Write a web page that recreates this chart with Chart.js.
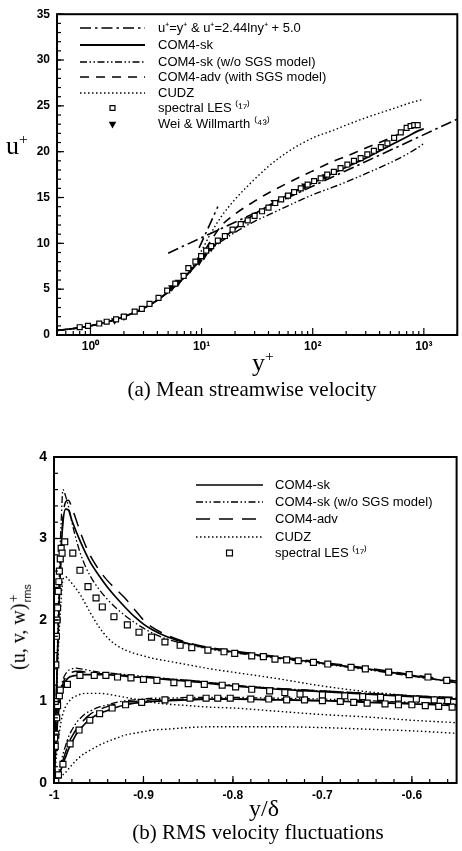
<!DOCTYPE html>
<html><head><meta charset="utf-8">
<script src="https://cdn.jsdelivr.net/npm/chart.js@4.4.1/dist/chart.umd.min.js"></script>
<style>
html,body{margin:0;padding:0;background:#fff;}
body{width:462px;height:851px;overflow:hidden;position:relative;}
.cv{position:absolute;left:0;width:462px;}
.t{position:absolute;font-family:'Liberation Serif','Times New Roman',serif;color:#000;white-space:nowrap;line-height:1;transform:translate(-50%,-50%);}
.t sup{font-size:0.6em;vertical-align:0.7em;}
</style></head><body>
<div class="cv" style="top:0;height:375px"><canvas id="ca"></canvas></div>
<div class="cv" style="top:440px;height:372px"><canvas id="cb"></canvas></div>
<div class="t" style="left:17px;top:145px;font-size:26px">u<sup>+</sup></div>
<div class="t" style="left:263px;top:362px;font-size:26px">y<sup>+</sup></div>
<div class="t" style="left:252px;top:389px;font-size:21px">(a) Mean streamwise velocity</div>
<div class="t" style="left:20px;top:627px;font-size:20px;transform:translate(-50%,-50%) rotate(-90deg)">(u, v, w)<span style="display:inline-flex;flex-direction:column;vertical-align:7px;line-height:1.05;margin-left:1px"><span style="font-size:14px">+</span><span style="font-size:11px;font-family:'Liberation Sans',Arial,sans-serif">rms</span></span></div>
<div class="t" style="left:264px;top:808px;font-size:24px">y/&delta;</div>
<div class="t" style="left:258px;top:832px;font-size:21px">(b) RMS velocity fluctuations</div>
<script>
// ---------- Panel (a) data ----------
const aX    = [0.5,0.7,1,1.5,2,3,4,5,6,7,8,10,12,15,20,30,40,60,100,150,200,300,500,700,900,1000];
const skA   = [0.5,0.7,1.0,1.5,2.0,2.9,3.8,4.7,5.5,6.3,7.0,8.4,9.4,10.4,11.6,13.2,14.1,15.3,16.6,17.6,18.3,19.3,20.7,21.6,22.3,22.5];
const woA   = [0.5,0.7,1.0,1.5,2.0,2.9,3.8,4.7,5.5,6.3,7.0,8.3,9.3,10.2,11.2,12.4,13.1,14.1,15.3,16.1,16.7,17.6,18.8,19.7,20.5,20.9];
const advA  = [0.5,0.7,1.0,1.5,2.0,2.9,3.8,4.7,5.5,6.3,7.1,8.7,10.2,11.9,13.2,14.6,15.5,16.6,17.9,18.9,19.5,20.4,21.5,22.3,null,null];
const cudzA = [0.5,0.7,1.0,1.5,2.0,2.9,3.8,4.7,5.5,6.3,7.1,9.2,11.0,12.9,14.8,17.0,18.4,20.0,21.5,22.3,22.9,23.7,24.6,25.2,25.6,25.7];
const viscX = [9.5,14];      const viscY = [9.5,14];
const logX  = [5,2000];      const logY  = [8.93,23.55];
const aLesX = [0.8,0.95,1.2,1.4,1.7,2.0,2.5,2.9,3.4,4.1,4.9,5.8,6.9,7.6,8.8,9.9,11,12.2,14,16.2,19,22.5,26,30,35,40,46,52,60,68,78,90,103,118,135,155,178,205,235,270,310,355,410,470,540,620,700,760,820,880];
const aLesY = [0.85,1.0,1.25,1.45,1.7,2.0,2.55,2.85,3.4,4.05,4.85,5.6,6.45,7.3,8.0,8.6,9.2,9.7,10.3,10.8,11.5,12.1,12.5,13.0,13.5,13.9,14.4,14.8,15.2,15.6,16.0,16.4,16.8,17.1,17.5,17.8,18.2,18.6,19.0,19.3,19.7,20.1,20.5,20.9,21.5,22.1,22.6,22.8,22.9,22.9];
const aWeiX = [1.65,2.0,5.4,6.2,6.9,7.9,9.5,10.5,12.2,45,60,85,130];
const aWeiY = [1.6,2.0,5.2,5.8,6.5,7.2,8.0,8.6,9.5,14.5,15.2,16.3,17.3];
const aXTicks = [1,10,100,1000];
const aXLabels = ['10\u2070','10\u00B9','10\u00B2','10\u00B3'];
const aYTicks = [0,5,10,15,20,25,30,35];

// ---------- Panel (b) data ----------
const bX    = [-1,-0.998,-0.996,-0.994,-0.992,-0.99,-0.987,-0.984,-0.98,-0.975,-0.97,-0.965,-0.96,-0.95,-0.94,-0.93,-0.92,-0.91,-0.9,-0.89,-0.875,-0.85,-0.825,-0.8,-0.75,-0.7,-0.65,-0.6,-0.55];
const skU   = [0,0.8,1.6,2.3,2.85,3.2,3.36,3.35,3.22,3.08,2.95,2.83,2.72,2.55,2.40,2.27,2.15,2.04,1.95,1.88,1.80,1.71,1.65,1.61,1.54,1.47,1.40,1.32,1.23];
const woU   = [0,0.85,1.75,2.6,3.2,3.6,3.52,3.4,3.2,2.98,2.8,2.66,2.55,2.38,2.25,2.14,2.05,1.97,1.9,1.84,1.77,1.70,1.64,1.60,1.53,1.46,1.39,1.31,1.23];
const advU  = [0,0.8,1.6,2.3,2.85,3.25,3.45,3.47,3.38,3.22,3.06,2.92,2.8,2.62,2.48,2.37,2.26,2.13,2.0,1.91,1.82,1.72,1.66,1.62,1.55,1.48,1.41,1.33,1.25];
const cudzU = [0,0.7,1.4,1.9,2.25,2.5,2.53,2.5,2.45,2.38,2.3,2.2,2.1,1.92,1.78,1.69,1.63,1.59,1.56,1.53,1.5,1.45,1.40,1.36,1.28,1.19,1.12,1.07,1.03];
const skW   = [0,0.45,0.75,0.95,1.08,1.17,1.25,1.29,1.31,1.32,1.33,1.33,1.33,1.33,1.33,1.32,1.31,1.30,1.30,1.29,1.27,1.25,1.22,1.19,1.15,1.12,1.09,1.06,1.03];
const woW   = [0,0.5,0.85,1.05,1.18,1.27,1.34,1.38,1.40,1.41,1.40,1.39,1.38,1.36,1.35,1.34,1.33,1.32,1.31,1.30,1.28,1.26,1.23,1.20,1.16,1.13,1.10,1.07,1.04];
const advW  = [0,0.45,0.8,1.0,1.13,1.22,1.30,1.34,1.36,1.37,1.37,1.36,1.35,1.34,1.34,1.33,1.32,1.31,1.30,1.30,1.28,1.26,1.23,1.20,1.16,1.13,1.10,1.07,1.05];
const cudzW = [0,0.25,0.45,0.62,0.76,0.85,0.94,0.99,1.04,1.07,1.09,1.10,1.10,1.10,1.09,1.07,1.05,1.03,1.01,0.99,0.97,0.95,0.93,0.92,0.88,0.84,0.81,0.77,0.74];
const skV   = [0,0.02,0.06,0.11,0.17,0.24,0.32,0.41,0.5,0.6,0.67,0.73,0.78,0.85,0.89,0.93,0.96,0.98,0.99,1.0,1.01,1.02,1.03,1.03,1.02,1.01,0.99,0.97,0.95];
const woV   = [0,0.03,0.09,0.17,0.26,0.35,0.46,0.56,0.65,0.74,0.80,0.85,0.88,0.93,0.96,0.99,1.01,1.02,1.03,1.04,1.04,1.05,1.05,1.05,1.04,1.03,1.01,0.99,0.97];
const advV  = [0,0.02,0.07,0.13,0.2,0.28,0.38,0.48,0.57,0.66,0.73,0.79,0.84,0.9,0.94,0.97,0.99,1.0,1.01,1.02,1.02,1.03,1.03,1.03,1.02,1.01,1.0,0.98,0.96];
const cudzV = [0,0.01,0.02,0.04,0.07,0.1,0.13,0.17,0.22,0.28,0.33,0.37,0.40,0.46,0.51,0.55,0.59,0.61,0.63,0.65,0.66,0.68,0.69,0.69,0.69,0.68,0.66,0.64,0.61];
const lesUX = [-0.9993,-0.9986,-0.998,-0.9973,-0.9966,-0.996,-0.9953,-0.9946,-0.994,-0.993,-0.992,-0.991,-0.988,-0.979,-0.971,-0.962,-0.953,-0.946,-0.933,-0.918,-0.905,-0.891,-0.876,-0.859,-0.846,-0.828,-0.810,-0.798,-0.779,-0.766,-0.753,-0.740,-0.727,-0.710,-0.694,-0.668,-0.652,-0.626,-0.603,-0.582,-0.561];
const lesUY = [0.55,1.0,1.45,1.8,2.0,2.15,2.35,2.47,2.6,2.75,2.88,2.82,2.96,2.82,2.61,2.41,2.27,2.16,2.04,1.94,1.85,1.79,1.73,1.69,1.66,1.63,1.61,1.59,1.56,1.55,1.52,1.51,1.50,1.48,1.46,1.42,1.40,1.36,1.33,1.30,1.26];
const lesWX = [-0.9986,-0.998,-0.997,-0.996,-0.994,-0.993,-0.985,-0.971,-0.955,-0.942,-0.929,-0.914,-0.900,-0.885,-0.866,-0.850,-0.832,-0.812,-0.797,-0.779,-0.759,-0.742,-0.725,-0.700,-0.675,-0.655,-0.635,-0.615,-0.595,-0.575,-0.560];
const lesWY = [0.45,0.6,0.8,0.95,1.07,1.14,1.21,1.32,1.32,1.32,1.30,1.29,1.27,1.26,1.23,1.22,1.21,1.20,1.18,1.15,1.13,1.11,1.09,1.08,1.07,1.06,1.05,1.04,1.03,1.02,1.01];
const lesVX = [-0.9993,-0.998,-0.995,-0.990,-0.982,-0.972,-0.960,-0.949,-0.935,-0.920,-0.902,-0.876,-0.848,-0.830,-0.817,-0.803,-0.780,-0.760,-0.740,-0.720,-0.700,-0.680,-0.665,-0.650,-0.630,-0.615,-0.600,-0.585,-0.570,-0.555];
const lesVY = [0.0,0.02,0.1,0.23,0.48,0.65,0.77,0.85,0.92,0.96,0.99,1.02,1.04,1.04,1.04,1.04,1.03,1.03,1.02,1.02,1.01,1.0,0.99,0.98,0.97,0.96,0.96,0.95,0.94,0.93];
const bXTicks = [-1,-0.9,-0.8,-0.7,-0.6];
const bXLabels = ['-1','-0.9','-0.8','-0.7','-0.6'];
const bYTicks = [0,1,2,3,4];

// ---------- helpers ----------
const pts = (xs, ys) => xs.map((x, i) => ({x: x, y: ys[i]}));
const SANS = "'Liberation Sans', Arial, Helvetica, sans-serif";
const DASH = {solid: [], wo: [7,2.5,1.5,2.5,1.5,2.5], advA: [9,7], advB: [14,9], cudz: [1.5,2.5], law: [11,4,2.5,4]};
function line(label, data, dash, width, lg) {
  return {label: label, data: data, showLine: true, borderColor: '#000', borderWidth: width, borderDash: dash,
    pointRadius: 0, pointHoverRadius: 0, cubicInterpolationMode: 'monotone', spanGaps: false, fill: false, lg: lg};
}
function marks(label, data, style, r, fillC, lg, rot) {
  return {label: label, data: data, showLine: false, pointStyle: style, pointRadius: r, pointHoverRadius: r,
    pointBorderColor: '#000', pointBackgroundColor: fillC, pointBorderWidth: 1.2, pointRotation: rot || 0, lg: lg};
}
function range(a, b, step) { const r = []; for (let v = a; v <= b + step * 1e-6; v += step) r.push(+v.toFixed(4)); return r; }

const deco = {
  id: 'deco',
  afterDatasetsDraw(chart, args, o) {
    const ctx = chart.ctx, a = chart.chartArea, xs = chart.scales.x, ys = chart.scales.y;
    ctx.save();
    ctx.strokeStyle = '#000'; ctx.fillStyle = '#000'; ctx.setLineDash([]);
    ctx.lineWidth = 1.2;
    const tx = (vals, len) => vals.forEach(v => { const p = xs.getPixelForValue(v); if (p < a.left - 0.5 || p > a.right + 0.5) return; ctx.beginPath(); ctx.moveTo(p, a.bottom); ctx.lineTo(p, a.bottom - len); ctx.stroke(); });
    const ty = (vals, len) => vals.forEach(v => { const p = ys.getPixelForValue(v); ctx.beginPath(); ctx.moveTo(a.left, p); ctx.lineTo(a.left + len, p); ctx.stroke(); });
    tx(o.xMajor, 7); tx(o.xMinor, 4); ty(o.yMajor, 7); ty(o.yMinor, 4);
    ctx.lineWidth = 2;
    ctx.strokeRect(a.left, a.top, a.right - a.left, a.bottom - a.top);
    // legend
    const items = chart.data.datasets.filter(d => d.lg != null).sort((p, q) => p.lg - q.lg);
    ctx.font = o.font; ctx.textBaseline = 'middle'; ctx.textAlign = 'left';
    items.forEach((d, i) => {
      const y = o.rows[i];
      if (d.showLine) {
        ctx.lineWidth = d.borderWidth; ctx.setLineDash(d.borderDash);
        ctx.beginPath(); ctx.moveTo(o.x0, y); ctx.lineTo(o.x1, y); ctx.stroke();
        ctx.setLineDash([]);
      } else {
        ctx.lineWidth = d.pointBorderWidth; ctx.fillStyle = d.pointBackgroundColor;
        Chart.helpers.drawPoint(ctx, {pointStyle: d.pointStyle, radius: d.pointRadius, rotation: d.pointRotation, borderWidth: d.pointBorderWidth}, (o.x0 + o.x1) / 2, y);
        ctx.fillStyle = '#000';
      }
      ctx.fillText(d.label, o.tx, y + 0.5);
    });
    ctx.restore();
  }
};

function axisCommon(size) {
  return {grid: {display: false, drawTicks: false}, border: {display: false},
    ticks: {color: '#000', autoSkip: false, maxRotation: 0, font: {family: SANS, size: size, weight: 'bold'}}};
}

// ---------- Chart (a) ----------
const xa = axisCommon(12), ya = axisCommon(12);
Object.assign(xa, {type: 'logarithmic', min: 0.5, max: 2000,
  afterBuildTicks: s => { s.ticks = aXTicks.map(v => ({value: v})); },
  afterFit: s => { s.height = 40; }});
xa.ticks.padding = 4;
xa.ticks.callback = (v) => { const i = aXTicks.indexOf(v); return i >= 0 ? aXLabels[i] : ''; };
Object.assign(ya, {type: 'linear', min: 0, max: 35,
  afterBuildTicks: s => { s.ticks = aYTicks.map(v => ({value: v})); },
  afterFit: s => { s.width = 57; }});
ya.ticks.padding = 7;

const aMinorX = [0.6,0.7,0.8,0.9,2,3,4,5,6,7,8,9,20,30,40,50,60,70,80,90,200,300,400,500,600,700,800,900,2000];
new Chart(document.getElementById('ca'), {
  type: 'scatter',
  data: {datasets: [
    marks('spectral LES \u207D\u00B9\u2077\u207E', pts(aLesX, aLesY), 'rect', 3.5, '#fff', 6),
    marks('Wei & Willmarth \u207D\u2074\u00B3\u207E', pts(aWeiX, aWeiY), 'triangle', 3.2, '#000', 7, 180),
    line('u\u207A=y\u207A & u\u207A=2.44lny\u207A + 5.0', pts(viscX, viscY), DASH.law, 1.6, 1),
    line('loglaw', pts(logX, logY), DASH.law, 1.6, null),
    line('COM4-sk', pts(aX, skA), DASH.solid, 1.8, 2),
    line('COM4-sk (w/o SGS model)', pts(aX, woA), DASH.wo, 1.4, 3),
    line('COM4-adv (with SGS model)', pts(aX, advA), DASH.advA, 1.6, 4),
    line('CUDZ', pts(aX, cudzA), DASH.cudz, 1.4, 5)
  ]},
  options: {
    responsive: true, maintainAspectRatio: false, animation: false, events: [],
    layout: {padding: {top: 12, right: 0, left: 0, bottom: 0}},
    plugins: {legend: {display: false}, tooltip: {enabled: false},
      deco: {xMajor: aXTicks, xMinor: aMinorX, yMajor: aYTicks, yMinor: range(0, 35, 1),
        rows: [28,45,62,77,93,108,124], x0: 80, x1: 145, tx: 158, font: "13px " + SANS}},
    scales: {x: xa, y: ya}
  },
  plugins: [deco]
});

// ---------- Chart (b) ----------
const xb = axisCommon(12), yb = axisCommon(14);
Object.assign(xb, {type: 'linear', min: -1, max: -0.55,
  afterBuildTicks: s => { s.ticks = bXTicks.map(v => ({value: v})); },
  afterFit: s => { s.height = 29; }});
xb.ticks.padding = 5;
xb.ticks.callback = (v) => { const i = bXTicks.findIndex(t => Math.abs(t - v) < 1e-6); return i >= 0 ? bXLabels[i] : ''; };
Object.assign(yb, {type: 'linear', min: 0, max: 4,
  afterBuildTicks: s => { s.ticks = bYTicks.map(v => ({value: v})); },
  afterFit: s => { s.width = 54; }});
yb.ticks.padding = 7;

new Chart(document.getElementById('cb'), {
  type: 'scatter',
  data: {datasets: [
    marks('spectral LES \u207D\u00B9\u2077\u207E', pts(lesUX, lesUY), 'rect', 4.2, '#fff', 5),
    marks('lesW', pts(lesWX, lesWY), 'rect', 4.2, '#fff', null),
    marks('lesV', pts(lesVX, lesVY), 'rect', 4.2, '#fff', null),
    line('COM4-sk', pts(bX, skU), DASH.solid, 1.7, 1),
    line('skW', pts(bX, skW), DASH.solid, 1.7, null),
    line('skV', pts(bX, skV), DASH.solid, 1.7, null),
    line('COM4-sk (w/o SGS model)', pts(bX, woU), DASH.wo, 1.3, 2),
    line('woW', pts(bX, woW), DASH.wo, 1.3, null),
    line('woV', pts(bX, woV), DASH.wo, 1.3, null),
    line('COM4-adv', pts(bX, advU), DASH.advB, 1.5, 3),
    line('advW', pts(bX, advW), DASH.advB, 1.5, null),
    line('advV', pts(bX, advV), DASH.advB, 1.5, null),
    line('CUDZ', pts(bX, cudzU), DASH.cudz, 1.4, 4),
    line('cudzW', pts(bX, cudzW), DASH.cudz, 1.4, null),
    line('cudzV', pts(bX, cudzV), DASH.cudz, 1.4, null)
  ]},
  options: {
    responsive: true, maintainAspectRatio: false, animation: false, events: [],
    layout: {padding: {top: 17, right: 0, left: 0, bottom: 0}},
    plugins: {legend: {display: false}, tooltip: {enabled: false},
      deco: {xMajor: bXTicks, xMinor: range(-0.98, -0.56, 0.02), yMajor: bYTicks, yMinor: range(0.2, 3.8, 0.2),
        rows: [45,62,79,97,113], x0: 196, x1: 263, tx: 275, font: "13px " + SANS}},
    scales: {x: xb, y: yb}
  },
  plugins: [deco]
});
</script>
</body></html>
